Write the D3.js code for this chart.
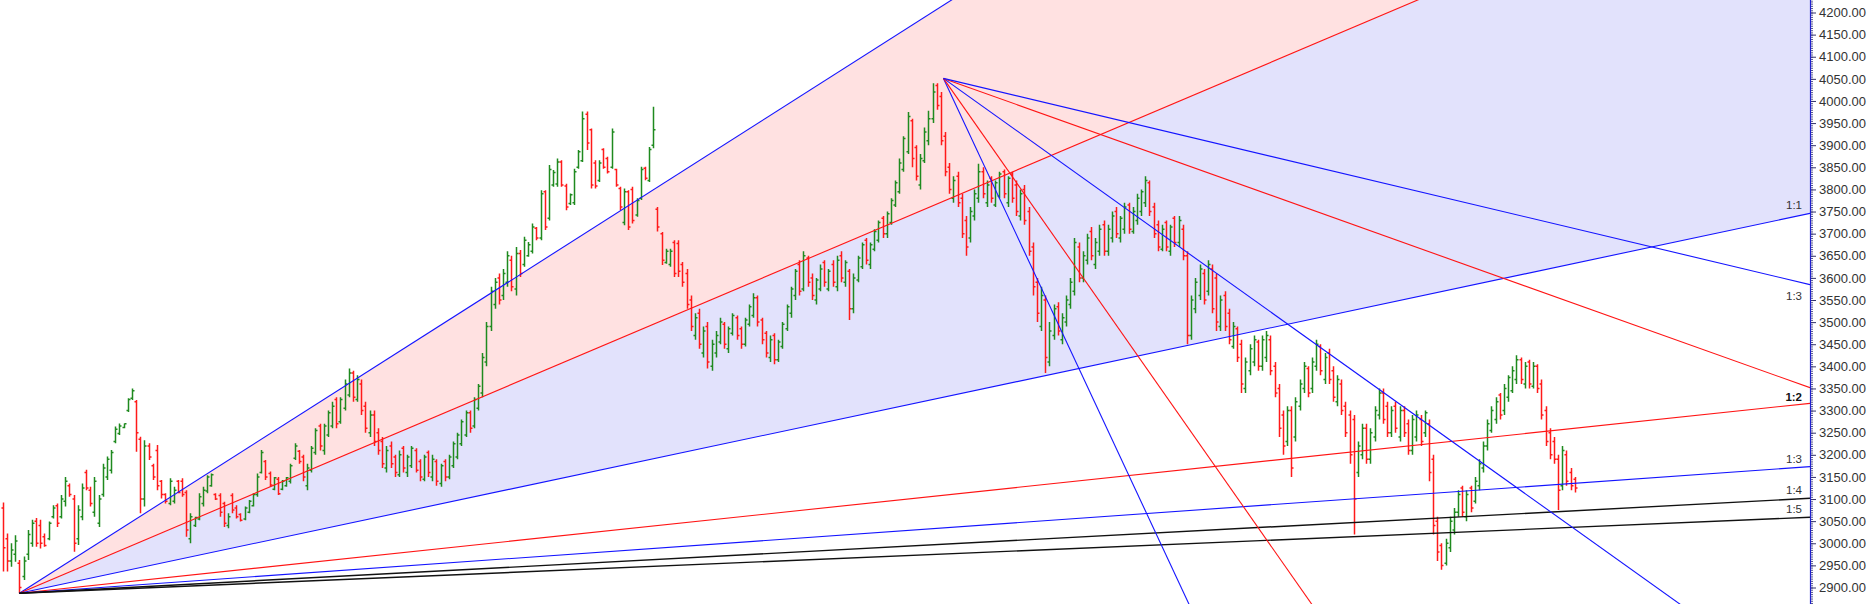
<!DOCTYPE html>
<html><head><meta charset="utf-8">
<script src="https://cdn.jsdelivr.net/npm/d3@7"></script>
<style>body{margin:0;background:#fff;overflow:hidden}svg{display:block}</style>
</head><body>
<script>
// ---------------- DATA ----------------
const barOpen = [3080,3010,2960,2975,2955,2925,2975,3000,3050,3040,3015,3010,3060,3085,3060,3095,3130,3100,3010,3060,3160,3120,3070,3045,3110,3150,3165,3230,3248,3262,3300,3328,3320,3235,3100,3220,3175,3210,3140,3110,3090,3095,3140,3140,3115,3010,3040,3055,3090,3118,3130,3110,3108,3090,3040,3108,3080,3065,3055,3070,3085,3110,3160,3185,3158,3122,3145,3122,3130,3140,3192,3208,
3195,3130,3165,3205,3265,3210,3245,3265,3325,3275,3305,3335,3385,3325,3360,3310,3250,3290,3250,3230,3170,3220,3195,3155,3215,3160,3175,3210,3185,3145,3205,3150,3185,3135,3185,3150,3175,3195,3225,3245,3295,3265,3305,3340,3410,3490,3540,3600,3560,3590,3640,
3575,3655,3630,3650,3660,3712,3690,3795,3735,3810,3812,3862,3808,3768,3770,3850,3865,3970,3935,3860,3820,3890,3870,3850,3845,3802,3725,3795,3800,3742,3780,3848,3820,3900,3755,3700,3635,3630,3680,3678,3630,
3610,3550,3470,3520,3430,3490,3400,3430,3455,3495,3440,3475,3510,3485,3450,3495,3515,3555,3505,3475,3420,3470,3415,3445,3485,3520,3560,3630,3575,3645,3600,3550,3575,3635,3575,3630,3580,3650,3590,3615,3530,3595,3625,3685,3630,3665,3685,3735,3700,3725,3765,3795,3845,3885,3955,3895,3810,3865,3910,3960,4035,4010,3920,3850,3780,3830,3780,3730,3690,3740,3780,3840,3770,3825,3765,3785,3840,3770,3835,3810,3740,3800,3750,3670,3590,3490,3550,3410,3470,3535,3460,3500,3540,3570,3670,3600,3640,3705,3630,3660,3720,3660,3690,3750,3690,3710,3765,3705,3730,3750,3770,3815,3760,3720,3665,3725,3660,3735,3680,3710,3650,3470,3530,3560,3610,3570,3620,3600,3490,3560,3520,3445,3485,3450,3350,3390,3410,3455,3400,3420,3460,3400,3350,3290,3230,3300,3240,3310,3350,3395,3350,3400,3445,3370,3430,3390,3320,3360,3310,3290,3280,3160,3200,3260,3190,3240,3290,3340,3310,3250,3310,3240,3300,3270,3210,3240,3280,3250,3270,3190,3050,2995,2955,2990,3030,3070,3125,3060,3125,3095,3130,3170,3220,3255,3280,3335,3300,3330,3345,3370,3415,3360,3410,3355,3400,3360,3300,3250,3230,3190,3130,3200,3160,3145];
const barHigh = [3092,3022,3000,3018,2962,2970,3030,3053,3057,3053,3022,3049,3086,3090,3109,3150,3135,3109,3086,3135,3166,3128,3150,3109,3180,3196,3211,3264,3271,3271,3328,3350,3324,3241,3233,3226,3180,3222,3143,3113,3147,3128,3143,3147,3120,3068,3060,3113,3128,3154,3158,3113,3113,3094,3068,3113,3086,3068,3083,3098,3113,3158,3211,3188,3162,3150,3150,3143,3150,3180,3226,3211,
3200,3180,3220,3260,3270,3270,3300,3320,3330,3330,3370,3395,3390,3380,3370,3320,3300,3300,3260,3240,3220,3230,3200,3210,3220,3200,3220,3215,3190,3200,3210,3200,3190,3180,3190,3200,3230,3250,3280,3300,3300,3330,3360,3430,3500,3580,3600,3610,3620,3660,3650,
3670,3663,3693,3681,3723,3715,3798,3798,3855,3844,3870,3866,3813,3791,3847,3889,3976,3976,3938,3866,3866,3893,3874,3938,3847,3806,3802,3798,3806,3780,3851,3851,3896,3987,3760,3704,3666,3666,3685,3685,3636,
3620,3560,3520,3530,3490,3500,3460,3480,3510,3500,3490,3520,3515,3490,3510,3540,3565,3560,3510,3480,3470,3475,3460,3500,3540,3580,3620,3640,3660,3650,3610,3600,3630,3640,3620,3640,3650,3660,3640,3620,3610,3650,3680,3690,3680,3710,3730,3740,3750,3780,3820,3870,3920,3975,3960,3900,3880,3940,3978,4040,4040,4020,3930,3860,3830,3840,3790,3740,3760,3800,3858,3850,3820,3830,3820,3840,3845,3830,3840,3820,3800,3810,3760,3680,3600,3580,3560,3500,3540,3545,3520,3560,3600,3690,3680,3660,3700,3715,3690,3720,3730,3720,3750,3760,3740,3770,3770,3760,3790,3800,3830,3820,3770,3730,3720,3730,3720,3740,3740,3720,3660,3560,3600,3630,3620,3640,3630,3610,3560,3570,3530,3500,3490,3460,3420,3450,3470,3460,3470,3480,3470,3410,3360,3300,3310,3310,3330,3370,3410,3400,3420,3460,3450,3430,3440,3400,3380,3370,3320,3300,3290,3230,3270,3270,3260,3310,3350,3350,3320,3310,3320,3310,3310,3280,3290,3300,3290,3300,3280,3200,3060,3000,3010,3060,3080,3120,3130,3120,3130,3150,3190,3230,3280,3310,3330,3340,3360,3380,3400,3425,3420,3410,3415,3410,3405,3370,3310,3260,3240,3200,3220,3210,3170,3150];
const barLow = [2936,2936,2947,2958,2887,2917,2962,2992,2992,2988,2992,3007,3056,3037,3056,3083,3105,2981,2996,3052,3120,3083,3060,3037,3105,3143,3158,3226,3245,3260,3297,3324,3207,3068,3083,3188,3143,3120,3101,3090,3086,3090,3113,3105,3015,3000,3037,3052,3083,3113,3128,3098,3060,3037,3034,3068,3056,3049,3052,3068,3083,3105,3158,3143,3128,3120,3109,3120,3128,3135,3188,3180,
3140,3120,3160,3200,3210,3200,3240,3260,3260,3270,3300,3330,3320,3320,3290,3250,3240,3220,3200,3170,3160,3170,3150,3150,3160,3150,3170,3160,3140,3140,3150,3140,3130,3128,3140,3145,3170,3190,3220,3240,3250,3260,3300,3330,3400,3480,3530,3540,3550,3580,3570,
3560,3602,3625,3648,3655,3685,3685,3708,3730,3806,3806,3806,3753,3765,3765,3847,3862,3889,3802,3802,3817,3847,3836,3847,3806,3753,3719,3708,3723,3738,3776,3821,3817,3893,3705,3629,3632,3625,3602,3602,3580,
3530,3480,3460,3440,3420,3395,3390,3420,3450,3440,3430,3470,3460,3440,3445,3490,3510,3490,3450,3420,3410,3405,3410,3440,3480,3510,3550,3560,3570,3580,3550,3540,3570,3580,3570,3580,3570,3590,3580,3505,3520,3590,3620,3630,3620,3660,3680,3690,3690,3720,3760,3790,3840,3880,3850,3820,3800,3860,3900,3950,3980,3900,3830,3790,3770,3760,3690,3650,3680,3730,3770,3780,3760,3770,3760,3780,3780,3760,3770,3740,3730,3720,3650,3560,3500,3480,3385,3400,3460,3470,3450,3490,3530,3560,3590,3590,3630,3640,3620,3650,3650,3650,3680,3690,3680,3700,3700,3700,3720,3740,3760,3740,3690,3660,3660,3660,3650,3670,3670,3640,3450,3460,3520,3550,3540,3560,3520,3480,3480,3480,3450,3440,3410,3340,3340,3380,3400,3390,3390,3410,3380,3330,3240,3200,3220,3150,3230,3300,3340,3330,3340,3390,3380,3360,3360,3320,3310,3290,3240,3180,3020,3150,3190,3180,3180,3230,3280,3270,3240,3240,3250,3230,3240,3200,3200,3230,3220,3240,3140,3020,2960,2940,2950,2980,3020,3060,3060,3050,3070,3090,3120,3160,3210,3250,3270,3280,3290,3320,3340,3360,3360,3350,3350,3350,3340,3280,3220,3190,3180,3075,3120,3130,3120,3115];
const barClose = [2990,2960,2985,3005,2900,2960,3020,3045,3000,3000,2995,3045,3080,3045,3100,3140,3110,3000,3075,3125,3125,3090,3140,3100,3170,3190,3205,3258,3265,3270,3325,3345,3250,3100,3220,3195,3150,3130,3110,3095,3140,3120,3115,3110,3030,3060,3058,3105,3120,3150,3155,3100,3070,3045,3060,3075,3060,3052,3080,3095,3110,3150,3205,3150,3132,3148,3112,3140,3148,3175,3220,3185,
3150,3170,3215,3255,3220,3265,3295,3310,3270,3325,3360,3385,3330,3370,3300,3260,3290,3230,3210,3180,3210,3180,3160,3200,3170,3195,3215,3165,3150,3195,3160,3190,3140,3175,3150,3195,3225,3245,3275,3295,3260,3325,3355,3420,3490,3570,3590,3550,3610,3650,3580,
3655,3610,3685,3675,3715,3690,3790,3715,3845,3838,3862,3810,3760,3788,3840,3885,3960,3905,3810,3808,3860,3850,3840,3930,3810,3760,3795,3715,3730,3775,3845,3825,3890,3935,3715,3640,3660,3660,3610,3615,3590,
3540,3490,3510,3450,3480,3410,3450,3470,3500,3450,3485,3515,3470,3450,3505,3535,3555,3500,3460,3430,3460,3415,3455,3495,3535,3575,3615,3570,3650,3590,3560,3595,3620,3590,3615,3590,3640,3600,3635,3530,3600,3645,3675,3640,3675,3705,3725,3700,3745,3775,3815,3860,3915,3965,3870,3830,3870,3930,3960,4020,3990,3910,3840,3800,3820,3770,3700,3670,3750,3790,3840,3790,3810,3780,3815,3835,3790,3825,3780,3750,3790,3730,3660,3580,3520,3560,3420,3480,3530,3480,3510,3550,3590,3680,3600,3650,3690,3650,3680,3710,3660,3710,3740,3700,3735,3760,3710,3750,3780,3795,3820,3750,3700,3670,3710,3670,3715,3680,3730,3650,3470,3550,3590,3620,3550,3630,3530,3500,3550,3490,3460,3490,3420,3360,3410,3440,3460,3400,3460,3470,3390,3340,3260,3220,3300,3170,3320,3360,3400,3340,3410,3450,3390,3420,3370,3330,3370,3300,3250,3200,3100,3220,3260,3190,3250,3300,3340,3280,3250,3300,3260,3300,3250,3210,3280,3290,3230,3295,3160,3040,2980,2950,3000,3050,3070,3110,3070,3110,3080,3140,3180,3220,3270,3300,3320,3290,3350,3375,3390,3415,3370,3400,3360,3400,3350,3290,3230,3200,3190,3120,3210,3140,3130,3125];

const priceTicks = [2900,2950,3000,3050,3100,3150,3200,3250,3300,3350,3400,3450,3500,3550,3600,3650,3700,3750,3800,3850,3900,3950,4000,4050,4100,4150,4200];

// Gann fan 1: anchored at the swing low, 1x1 = 2 points per bar, rising
const fan1Anchor = {bar: 4, price: 2887, unit: 2.0, dir: 1};
const fan1Ratios = [3, 2, 1, 1/2, 1/3, 1/4, 1/5];
const fan1Names  = ["3:1", "2:1", "1:1", "1:2", "1:3", "1:4", "1:5"];
// Gann fan 2: anchored at the swing high, falling
const fan2Anchor = {bar: 225.6, price: 4051, unit: 6.73, dir: -1};
const fan2Ratios = [3, 2, 1, 1/2, 1/3];
const fan2Names  = ["3:1", "2:1", "1:1", "1:2", "1:3"];

// ---------------- STYLE / LAYOUT ----------------
const W = 1868, H = 604, plotRight = 1810, slotCount = 433.4;
const BLUE = "#1414ff", RED = "#ff1414", BLACK = "#111";
const fan1Colors = [BLUE, RED, BLUE, RED, BLUE, BLACK, BLACK];
const fan2Colors = [BLUE, RED, BLUE, RED, BLUE];
const PINK = "#ffe1e1", LAVENDER = "#e2e2fc";
const UP = "#1f8a1f", DOWN = "#ff1a1a";

const x = d3.scaleLinear().domain([0, slotCount]).range([2.7, plotRight]);
const y = d3.scaleLinear().domain([2900, 4200]).range([587.5, 12.5]);

const svg = d3.select("body").append("svg").attr("width", W).attr("height", H)
  .style("font-family", "'Liberation Sans', Arial, sans-serif");
svg.append("rect").attr("width", W).attr("height", H).attr("fill", "#fff");
svg.append("clipPath").attr("id", "plotClip").append("rect")
  .attr("x", 0).attr("y", 0).attr("width", plotRight).attr("height", H);
const plot = svg.append("g").attr("clip-path", "url(#plotClip)");

const fanPrice = (fan, ratio, bar) => fan.price + fan.dir * fan.unit * ratio * (bar - fan.bar);

// fills of fan 1
const fills = [[0, 1, PINK], [1, 2, LAVENDER]];
fills.forEach(([a, b, col]) => {
  const pts = [[fan1Anchor.bar, fan1Anchor.price],
               [slotCount, fanPrice(fan1Anchor, fan1Ratios[a], slotCount)],
               [slotCount, fanPrice(fan1Anchor, fan1Ratios[b], slotCount)]];
  plot.append("path").attr("d", d3.line().x(d => x(d[0])).y(d => y(d[1]))(pts) + "Z")
    .attr("fill", col).attr("stroke", "none");
});

// OHLC bars
const bars = barOpen.map((o, i) => ({i, o, h: barHigh[i], l: barLow[i], c: barClose[i]}));
plot.append("g").selectAll("path").data(bars).join("path")
  .attr("d", d => {
    const cx = Math.round(x(d.i)) + 0.5;
    return `M${cx},${y(d.h)}V${y(d.l)}M${cx - 2},${y(d.o)}H${cx}M${cx},${y(d.c)}H${cx + 2}`;
  })
  .attr("stroke", d => d.c >= d.o ? UP : DOWN)
  .attr("stroke-width", 1.5).attr("fill", "none");

// fan lines
function drawFan(fan, ratios, colors) {
  ratios.forEach((r, k) => {
    plot.append("line")
      .attr("x1", x(fan.bar)).attr("y1", y(fan.price))
      .attr("x2", x(slotCount)).attr("y2", y(fanPrice(fan, r, slotCount)))
      .attr("stroke", colors[k]).attr("stroke-width", colors[k] === BLACK ? 1.4 : 1.1);
  });
}
drawFan(fan1Anchor, fan1Ratios, fan1Colors);
drawFan(fan2Anchor, fan2Ratios, fan2Colors);

// fan labels at right edge (coinciding labels of the same name are merged, drawn bold)
const labels = [];
function collectLabels(fan, ratios, names) {
  ratios.forEach((r, k) => {
    const py = y(fanPrice(fan, r, slotCount));
    if (py < 0 || py > H) return;
    const ly = fan.dir > 0 ? py - 4 : py + 15;
    const twin = labels.find(l => l.name === names[k] && Math.abs(l.y - ly) < 8);
    if (twin) { twin.bold = true; twin.y = (twin.y + ly) / 2; }
    else labels.push({name: names[k], y: ly, bold: false});
  });
}
collectLabels(fan1Anchor, fan1Ratios, fan1Names);
collectLabels(fan2Anchor, fan2Ratios, fan2Names);
svg.append("g").selectAll("text").data(labels).join("text")
  .attr("x", plotRight - 8).attr("y", d => d.y)
  .attr("text-anchor", "end").attr("font-size", 11.5)
  .attr("font-weight", d => d.bold ? "bold" : "normal")
  .attr("fill", d => d.bold ? "#111" : "#333")
  .text(d => d.name);

// price axis
const axisG = svg.append("g").attr("transform", `translate(${plotRight},0)`);
const minorTicks = d3.range(y.invert(H), y.invert(0), 5).map(v => Math.ceil(v / 5) * 5);
axisG.append("g").call(d3.axisRight(y).tickValues(minorTicks).tickSize(3).tickFormat(""))
  .call(g => g.select(".domain").remove())
  .call(g => g.selectAll("line").attr("stroke", "#55558a"));
axisG.append("g").call(d3.axisRight(y).tickValues(priceTicks).tickSize(6).tickPadding(3).tickFormat(d3.format(".2f")))
  .call(g => g.select(".domain").remove())
  .call(g => g.selectAll("line").attr("stroke", "#33336a"))
  .call(g => g.selectAll("text").attr("font-size", 13).attr("fill", "#333")
     .attr("font-family", "'Liberation Sans', Arial, sans-serif"));
axisG.append("line").attr("x1", 0.5).attr("x2", 0.5).attr("y1", y(y.invert(0))).attr("y2", y(y.invert(H)))
  .attr("stroke", "#2020d0").attr("stroke-width", 1.2);
</script>
</body></html>
